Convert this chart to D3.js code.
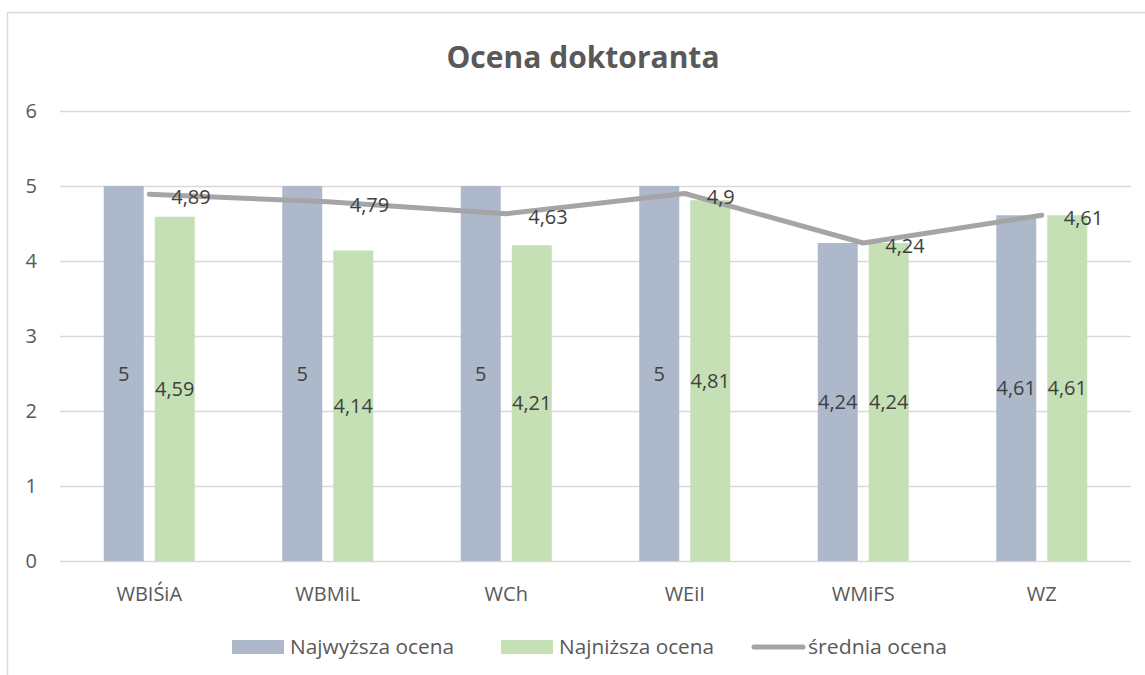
<!DOCTYPE html>
<html>
<head>
<meta charset="utf-8">
<script src="https://cdn.jsdelivr.net/npm/d3@7"></script>
<style>
  body { margin: 0; background: #fff; }
  svg text { font-family: "Open Sans", "Noto Sans", sans-serif; }
</style>
</head>
<body>
<div id="chart"></div>
<script>
// data
const categories = ["WBIŚiA", "WBMiL", "WCh", "WEiI", "WMiFS", "WZ"];
const highest = [5, 5, 5, 5, 4.24, 4.61];
const lowest = [4.59, 4.14, 4.21, 4.81, 4.24, 4.61];
const average = [4.89, 4.79, 4.63, 4.9, 4.24, 4.61];
const yTicks = [0, 1, 2, 3, 4, 5, 6];
const seriesNames = ["Najwyższa ocena", "Najniższa ocena", "średnia ocena"];
const colors = ["#adb9ca", "#c5e0b4", "#a5a5a5"];

const W = 1145, H = 675;
const plot = { left: 60, right: 1131, top: 111, bottom: 561 };

const svg = d3.select("#chart").append("svg")
    .attr("width", W).attr("height", H);

// chart frame (only left + top edges fall inside the picture)
svg.append("rect")
    .attr("x", 7.5).attr("y", 12.5)
    .attr("width", 1160).attr("height", 700)
    .attr("fill", "none").attr("stroke", "#d9d9d9").attr("stroke-width", 1.5);

const fmt = v => String(v).replace(".", ",");

const x = d3.scaleBand().domain(categories).range([plot.left, plot.right]);
const y = d3.scaleLinear().domain([0, 6]).range([plot.bottom, plot.top]);
const x1 = d3.scaleBand().domain([0, 1])
    .range([x.bandwidth() / 2 - 45.5, x.bandwidth() / 2 + 45.5])
    .paddingInner(0.216);

// gridlines
svg.append("g")
    .selectAll("line")
    .data(yTicks)
    .enter()
    .append("line")
    .attr("x1", plot.left).attr("x2", plot.right)
    .attr("y1", d => Math.round(y(d)) + 0.5)
    .attr("y2", d => Math.round(y(d)) + 0.5)
    .attr("stroke", "#d9d9d9").attr("stroke-width", 1.5);

// y tick labels
svg.append("g")
    .selectAll("text")
    .data(yTicks)
    .enter()
    .append("text")
    .attr("x", 37).attr("y", d => y(d))
    .attr("dy", "0.35em")
    .attr("text-anchor", "end")
    .attr("fill", "#595959")
    .style("font-size", "20px")
    .text(d => d);

// bars
const rows = categories.map((c, i) => ({ c: c, vals: [highest[i], lowest[i]] }));
const groups = svg.append("g")
    .selectAll("g")
    .data(rows)
    .enter()
    .append("g")
    .attr("transform", d => "translate(" + x(d.c) + ",0)");

groups.selectAll("rect")
    .data(d => d.vals.map((v, k) => ({ k: k, v: v })))
    .enter()
    .append("rect")
    .attr("x", d => x1(d.k))
    .attr("y", d => y(d.v))
    .attr("width", x1.bandwidth())
    .attr("height", d => y(0) - y(d.v))
    .attr("fill", d => colors[d.k]);

groups.selectAll("text")
    .data(d => d.vals.map((v, k) => ({ k: k, v: v })))
    .enter()
    .append("text")
    .attr("x", d => x1(d.k) + x1.bandwidth() / 2)
    .attr("y", d => (y(d.v) + y(0)) / 2)
    .attr("dy", "0.35em")
    .attr("text-anchor", "middle")
    .attr("fill", "#404040")
    .style("font-size", "20px")
    .text(d => fmt(d.v));

// average line
const cx = c => x(c) + x.bandwidth() / 2;
const line = d3.line()
    .x((d, i) => cx(categories[i]))
    .y(d => y(d));

svg.append("path")
    .datum(average)
    .attr("d", line)
    .attr("fill", "none")
    .attr("stroke", colors[2])
    .attr("stroke-width", 5)
    .attr("stroke-linejoin", "round")
    .attr("stroke-linecap", "round");

svg.append("g")
    .selectAll("text")
    .data(average)
    .enter()
    .append("text")
    .attr("x", (d, i) => cx(categories[i]) + 22)
    .attr("y", d => y(d) + 3)
    .attr("dy", "0.35em")
    .attr("fill", "#404040")
    .style("font-size", "20px")
    .text(d => fmt(d));

// category labels
svg.append("g")
    .selectAll("text")
    .data(categories)
    .enter()
    .append("text")
    .attr("x", d => cx(d))
    .attr("y", 601)
    .attr("text-anchor", "middle")
    .attr("fill", "#595959")
    .style("font-size", "20px")
    .text(d => d);

// title
svg.append("text")
    .attr("x", 583).attr("y", 68)
    .attr("text-anchor", "middle")
    .attr("fill", "#595959")
    .style("font-size", "30px")
    .style("font-weight", "bold")
    .text("Ocena doktoranta");

// legend
const legendX = [232, 501, 751];
const legendW = [164, 155, 139];
const legend = svg.append("g")
    .selectAll("g")
    .data(seriesNames)
    .enter()
    .append("g")
    .attr("transform", (d, i) => "translate(" + legendX[i] + ",0)");

legend.filter((d, i) => i < 2)
    .append("rect")
    .attr("x", 0).attr("y", 640)
    .attr("width", 52).attr("height", 14)
    .attr("fill", (d, i) => colors[i]);

legend.filter((d, i) => i === 2)
    .append("line")
    .attr("x1", 3).attr("x2", 52)
    .attr("y1", 647).attr("y2", 647)
    .attr("stroke", colors[2])
    .attr("stroke-width", 5)
    .attr("stroke-linecap", "round");

legend.append("text")
    .attr("x", (d, i) => i === 2 ? 57 : 58)
    .attr("y", 654)
    .attr("fill", "#595959")
    .style("font-size", "20px")
    .attr("textLength", (d, i) => legendW[i])
    .attr("lengthAdjust", "spacingAndGlyphs")
    .text(d => d);
</script>
</body>
</html>
